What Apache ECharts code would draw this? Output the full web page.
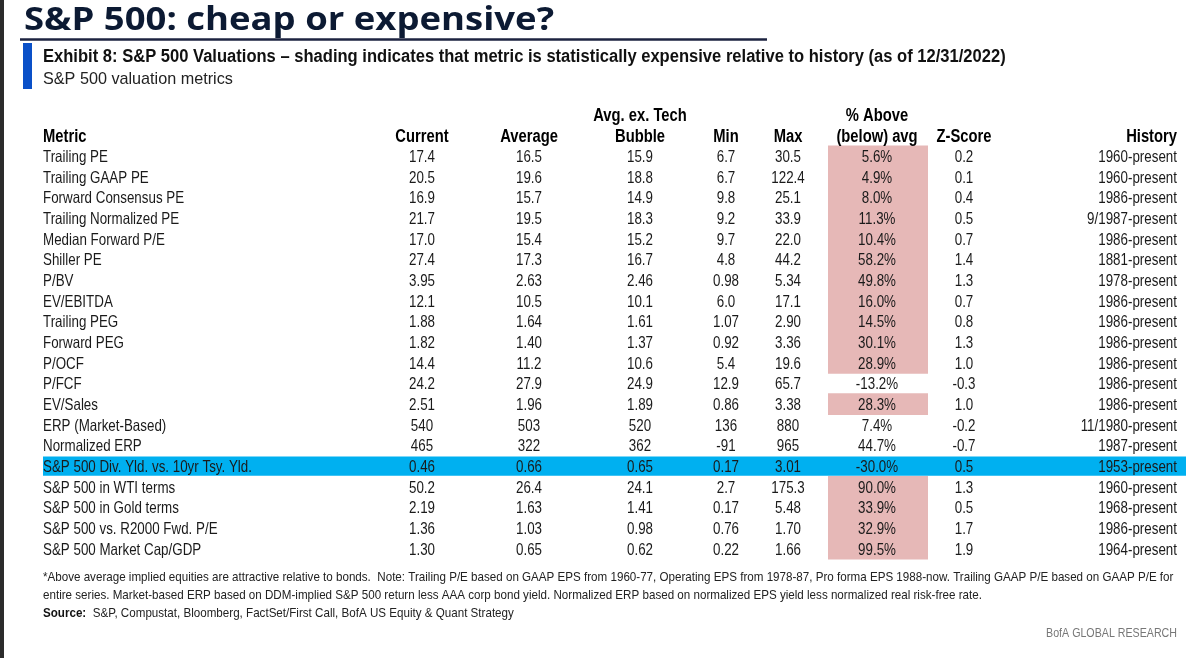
<!DOCTYPE html>
<html><head><meta charset="utf-8">
<script src="https://cdn.jsdelivr.net/npm/echarts@6/dist/echarts.min.js"></script>
<style>html,body{margin:0;padding:0;background:#fff}#main{width:1200px;height:658px}</style>
</head><body><div id="main"></div>
<script>
// ---------------- DATA ----------------
const metrics = ["Trailing PE","Trailing GAAP PE","Forward Consensus PE","Trailing Normalized PE","Median Forward P/E","Shiller PE","P/BV","EV/EBITDA","Trailing PEG","Forward PEG","P/OCF","P/FCF","EV/Sales","ERP (Market-Based)","Normalized ERP","S&P 500 Div. Yld. vs. 10yr Tsy. Yld.","S&P 500 in WTI terms","S&P 500 in Gold terms","S&P 500 vs. R2000 Fwd. P/E","S&P 500 Market Cap/GDP"];
const current = ["17.4","20.5","16.9","21.7","17.0","27.4","3.95","12.1","1.88","1.82","14.4","24.2","2.51","540","465","0.46","50.2","2.19","1.36","1.30"];
const average = ["16.5","19.6","15.7","19.5","15.4","17.3","2.63","10.5","1.64","1.40","11.2","27.9","1.96","503","322","0.66","26.4","1.63","1.03","0.65"];
const avgExTechBubble = ["15.9","18.8","14.9","18.3","15.2","16.7","2.46","10.1","1.61","1.37","10.6","24.9","1.89","520","362","0.65","24.1","1.41","0.98","0.62"];
const minVals = ["6.7","6.7","9.8","9.2","9.7","4.8","0.98","6.0","1.07","0.92","5.4","12.9","0.86","136","-91","0.17","2.7","0.17","0.76","0.22"];
const maxVals = ["30.5","122.4","25.1","33.9","22.0","44.2","5.34","17.1","2.90","3.36","19.6","65.7","3.38","880","965","3.01","175.3","5.48","1.70","1.66"];
const pctAboveAvg = ["5.6%","4.9%","8.0%","11.3%","10.4%","58.2%","49.8%","16.0%","14.5%","30.1%","28.9%","-13.2%","28.3%","7.4%","44.7%","-30.0%","90.0%","33.9%","32.9%","99.5%"];
const zScore = ["0.2","0.1","0.4","0.5","0.7","1.4","1.3","0.7","0.8","1.3","1.0","-0.3","1.0","-0.2","-0.7","0.5","1.3","0.5","1.7","1.9"];
const history = ["1960-present","1960-present","1986-present","9/1987-present","1986-present","1881-present","1978-present","1986-present","1986-present","1986-present","1986-present","1986-present","1986-present","11/1980-present","1987-present","1953-present","1960-present","1968-present","1986-present","1964-present"];
// shading: metric statistically expensive (1 = shaded)
const expensive = [1,1,1,1,1,1,1,1,1,1,1,0,1,0,0,0,1,1,1,1];
const highlightedMetric = "S&P 500 Div. Yld. vs. 10yr Tsy. Yld.";
const headerTop = ["","","","Avg. ex. Tech","","","% Above","",""];
const headerBottom = ["Metric","Current","Average","Bubble","Min","Max","(below) avg","Z-Score","History"];

// ---------------- LAYOUT ----------------
const REG = "'Liberation Sans',Arial,sans-serif";
const SX = 0.81; // horizontal condensing of the body face
const COLS = [
  {x:43, align:'left'}, {x:422, align:'center'}, {x:529, align:'center'},
  {x:640, align:'center'}, {x:726, align:'center'}, {x:788, align:'center'},
  {x:877, align:'center'}, {x:964, align:'center'}, {x:1177, align:'right'}
];
const SHADE_COL = [828, 928];
const HILITE_SPAN = [43, 1186];
const columns = [metrics, current, average, avgExTechBubble, minVals, maxVals, pctAboveAvg, zScore, history];
const rowKeys = ["__h1","__h2"].concat(metrics);
const hiIdx = metrics.indexOf(highlightedMetric);

function textSeries(name, values, col, rowOffset, font, color, sx) {
  return {
    type:'custom', name, silent:true, z:10,
    data: values.map((v,i)=>[COLS[col].x, i+rowOffset]),
    encode:{x:0,y:1},
    renderItem:(params, api)=>{
      const p = api.coord([api.value(0), api.value(1)]);
      const t = values[params.dataIndex];
      return {type:'text', x:p[0], y:p[1]+1.8, scaleX:sx, style:{text:t, fill:color, font, align:COLS[col].align, verticalAlign:'middle'}};
    }
  };
}
function bandSeries(name, rows, span, fill, shrink) {
  return {
    type:'custom', name, silent:true, z:2,
    data: rows.map(r=>[span[0], r, span[1]]),
    encode:{x:[0,2], y:1},
    renderItem:(params, api)=>{
      const a = api.coord([api.value(0), api.value(1)]);
      const b = api.coord([api.value(2), api.value(1)]);
      const h = api.size([0,1])[1] - shrink;
      return {type:'rect', shape:{x:Math.round(a[0]), y:a[1]-h/2+0.5, width:Math.round(b[0]-a[0]), height:h}, style:{fill}};
    }
  };
}

const series = [];
series.push(bandSeries('expensive', expensive.map((e,i)=>e? i+2 : -1).filter(v=>v>=0), SHADE_COL, '#e6b8b7', -1));
series.push(bandSeries('highlight', [hiIdx+2], HILITE_SPAN, '#00b0f0', 1.5));
columns.forEach((vals,c)=>{
  series.push(textSeries('col'+c, vals, c, 2, '16.5px '+REG, '#1a1a1a', SX));
});
headerTop.forEach((h,c)=>{ if(h) series.push(textSeries('ht'+c, [h], c, 0, 'bold 18px '+REG, '#000', 0.82)); });
headerBottom.forEach((h,c)=>{ series.push(textSeries('hb'+c, [h], c, 1, 'bold 18px '+REG, '#000', 0.82)); });

const chart = echarts.init(document.getElementById('main'), null, {renderer:'canvas'});
chart.setOption({
  animation:false,
  backgroundColor:'#fff',
  grid:{left:0, right:0, top:104.2, height:454.3, containLabel:false},
  xAxis:{type:'value', min:0, max:1200, show:false},
  yAxis:{type:'category', data:rowKeys, inverse:true, show:false},
  series,
  graphic:[
    {type:'rect', left:0, top:0, shape:{width:4, height:658}, style:{fill:'#2b2b2b'}, silent:true},
    {type:'text', x:24, y:21, scaleX:1.14, style:{text:'S&P 500: cheap or expensive?', font:'bold 32px "Open Sans",'+REG, fill:'#0c1a33', verticalAlign:'middle'}},
    {type:'line', shape:{x1:20, y1:39.5, x2:767, y2:39.5}, style:{stroke:'#1d2340', lineWidth:2.5}},
    {type:'rect', shape:{x:23, y:43, width:9, height:46}, style:{fill:'#0a50c8'}},
    {type:'text', x:43, y:57, scaleX:0.92, style:{text:'Exhibit 8: S&P 500 Valuations – shading indicates that metric is statistically expensive relative to history (as of 12/31/2022)', font:'bold 18px '+REG, fill:'#111', verticalAlign:'middle'}},
    {type:'text', x:43, y:80, style:{text:'S&P 500 valuation metrics', font:'16.2px '+REG, fill:'#222', verticalAlign:'middle'}},
    {type:'text', x:43, y:577, scaleX:0.86, style:{text:'*Above average implied equities are attractive relative to bonds.  Note: Trailing P/E based on GAAP EPS from 1960-77, Operating EPS from 1978-87, Pro forma EPS 1988-now. Trailing GAAP P/E based on GAAP P/E for', font:'13.5px '+REG, fill:'#222', verticalAlign:'middle'}},
    {type:'text', x:43, y:595, scaleX:0.86, style:{text:'entire series. Market-based ERP based on DDM-implied S&P 500 return less AAA corp bond yield. Normalized ERP based on normalized EPS yield less normalized real risk-free rate.', font:'13.5px '+REG, fill:'#222', verticalAlign:'middle'}},
    {type:'text', x:43, y:613, scaleX:0.86, style:{text:'{b|Source:}  S&P, Compustat, Bloomberg, FactSet/First Call, BofA US Equity & Quant Strategy', font:'13.5px '+REG, fill:'#222', verticalAlign:'middle', rich:{b:{font:'bold 13.5px '+REG, fill:'#111'}}}},
    {type:'text', x:1177, y:633, scaleX:0.82, style:{text:'BofA GLOBAL RESEARCH', font:'13px '+REG, fill:'#777', align:'right', verticalAlign:'middle'}}
  ]
});
</script></body></html>
